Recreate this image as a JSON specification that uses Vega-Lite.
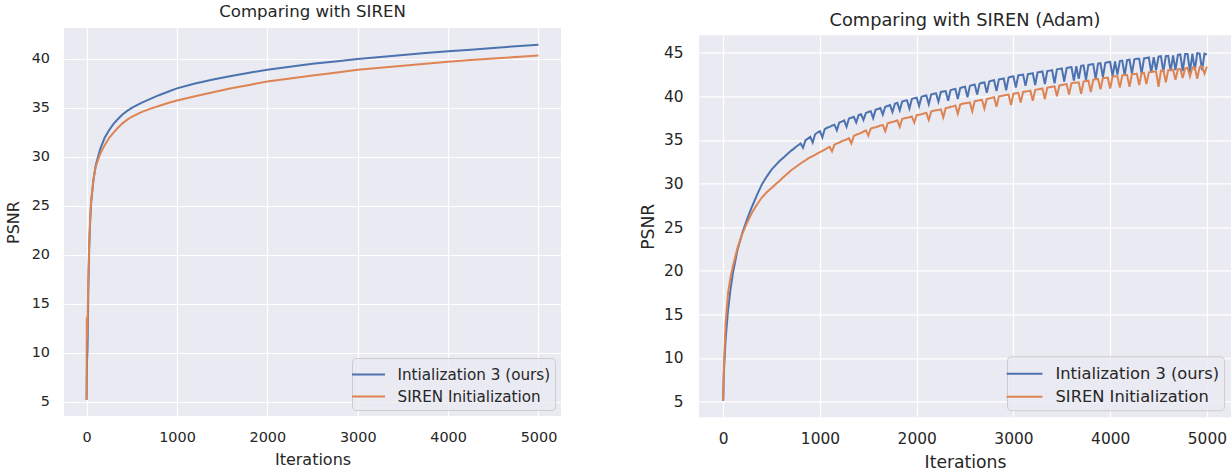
{
  "$schema": "https://vega.github.io/schema/vega-lite/v6.json",
  "background": "white",
  "padding": {"left": 5, "top": 3, "right": 0, "bottom": 0},
  "spacing": 78,
  "resolve": {"scale": {"color": "independent"}, "legend": {"color": "independent"}},
  "config": {
    "font": "DejaVu Sans",
    "view": {"fill": "#EAEAF2", "stroke": null},
    "axis": {"domain": false, "ticks": false, "tickSize": 0, "gridColor": "#FFFFFF", "gridWidth": 1.2, "labelColor": "#262626", "titleColor": "#262626", "titleFontWeight": "normal", "labelFont": "DejaVu Sans", "titleFont": "DejaVu Sans", "labelFlush": false, "labelOverlap": false},
    "title": {"fontWeight": "normal", "color": "#262626", "font": "DejaVu Sans"},
    "legend": {"labelColor": "#262626", "labelFont": "DejaVu Sans", "labelLimit": 0, "symbolType": "M-1.5,0L1.5,0", "symbolStrokeWidth": 2, "fillColor": "rgba(234,234,242,0.8)", "strokeColor": "#CCCCCC", "cornerRadius": 4, "padding": 4.5, "rowPadding": 1, "orient": "bottom-right"}
  },
  "datasets": {
    "left": [
      {"x":0,"b":5.2,"o":5.2},{"x":2,"b":7.0,"o":13.6},{"x":5,"b":9.2,"o":11.5},{"x":10,"b":10.3,"o":13.0},{"x":15,"b":13.5,"o":15.5},{"x":20,"b":17.0,"o":18.0},{"x":30,"b":21.0,"o":21.5},{"x":40,"b":23.5,"o":23.8},{"x":50,"b":25.3,"o":25.5},{"x":75,"b":27.6,"o":27.6},{"x":100,"b":29.1,"o":29.0},{"x":150,"b":30.8,"o":30.3},{"x":200,"b":31.95,"o":31.2},{"x":250,"b":32.75,"o":31.95},{"x":300,"b":33.4,"o":32.5},{"x":350,"b":33.9,"o":33.0},{"x":400,"b":34.35,"o":33.45},{"x":450,"b":34.7,"o":33.8},{"x":500,"b":35.0,"o":34.1},{"x":600,"b":35.5,"o":34.55},{"x":700,"b":35.9,"o":34.9},{"x":800,"b":36.3,"o":35.2},{"x":900,"b":36.65,"o":35.5},{"x":1000,"b":37.0,"o":35.75},{"x":1200,"b":37.5,"o":36.2},{"x":1400,"b":37.9,"o":36.6},{"x":1600,"b":38.25,"o":37.0},{"x":1800,"b":38.6,"o":37.35},{"x":2000,"b":38.9,"o":37.7},{"x":2250,"b":39.2,"o":38.0},{"x":2500,"b":39.5,"o":38.3},{"x":2750,"b":39.75,"o":38.6},{"x":3000,"b":40.0,"o":38.9},{"x":3250,"b":40.2,"o":39.1},{"x":3500,"b":40.4,"o":39.3},{"x":3750,"b":40.6,"o":39.5},{"x":4000,"b":40.78,"o":39.72},{"x":4250,"b":40.95,"o":39.9},{"x":4500,"b":41.12,"o":40.05},{"x":4750,"b":41.3,"o":40.2},{"x":4999,"b":41.46,"o":40.34}
    ],
    "right": [
      {"x":0,"b":5.1,"o":5.1},{"x":5,"b":7.6,"o":8.1},{"x":10,"b":9.0,"o":9.8},{"x":25,"b":12.1,"o":14.0},{"x":50,"b":15.5,"o":17.4},{"x":75,"b":17.8,"o":19.2},{"x":100,"b":19.7,"o":20.5},{"x":150,"b":22.5,"o":22.7},{"x":200,"b":24.4,"o":24.3},{"x":250,"b":26.0,"o":25.6},{"x":300,"b":27.4,"o":26.7},{"x":350,"b":28.7,"o":27.6},{"x":400,"b":29.9,"o":28.4},{"x":450,"b":30.8,"o":29.0},{"x":500,"b":31.6,"o":29.5},{"x":550,"b":32.2,"o":30.0},{"x":575,"b":32.5,"o":30.25},
      {"x":600,"b":32.75,"o":30.5},{"x":625,"b":33.0,"o":30.75},{"x":650,"b":33.25,"o":31.0},{"x":675,"b":33.5,"o":31.25},{"x":700,"b":33.75,"o":31.5},{"x":725,"b":33.95,"o":31.7},{"x":750,"b":34.2,"o":31.9},{"x":775,"b":34.4,"o":32.1},
      {"x":800,"b":34.6,"o":32.3},{"x":825,"b":34.1,"o":32.5},{"x":850,"b":34.95,"o":32.65},{"x":875,"b":35.15,"o":32.85},{"x":900,"b":35.35,"o":33.0},{"x":925,"b":34.7,"o":33.15},{"x":950,"b":35.65,"o":33.3},{"x":975,"b":35.85,"o":33.45},
      {"x":1000,"b":36.0,"o":33.6},{"x":1025,"b":35.3,"o":33.75},{"x":1050,"b":36.25,"o":33.9},{"x":1075,"b":36.4,"o":34.05},{"x":1100,"b":36.5,"o":34.2},{"x":1125,"b":36.65,"o":33.7},{"x":1150,"b":36.75,"o":34.45},{"x":1175,"b":36.1,"o":34.6},
      {"x":1200,"b":37.0,"o":34.7},{"x":1225,"b":37.1,"o":34.85},{"x":1250,"b":37.25,"o":34.95},{"x":1275,"b":36.5,"o":35.05},{"x":1300,"b":37.45,"o":35.2},{"x":1325,"b":37.55,"o":34.6},{"x":1350,"b":37.65,"o":35.45},{"x":1375,"b":37.0,"o":35.6},
      {"x":1400,"b":37.85,"o":35.7},{"x":1425,"b":37.95,"o":35.8},{"x":1450,"b":37.3,"o":35.95},{"x":1475,"b":38.1,"o":36.1},{"x":1500,"b":38.2,"o":35.5},{"x":1525,"b":38.3,"o":36.3},{"x":1550,"b":37.5,"o":36.4},{"x":1575,"b":38.45,"o":36.45},
      {"x":1600,"b":38.55,"o":36.55},{"x":1625,"b":38.65,"o":36.65},{"x":1650,"b":37.9,"o":36.7},{"x":1675,"b":38.8,"o":36.0},{"x":1700,"b":38.9,"o":36.9},{"x":1725,"b":39.0,"o":37.0},{"x":1750,"b":38.2,"o":37.05},{"x":1775,"b":39.15,"o":37.15},
      {"x":1800,"b":39.25,"o":37.25},{"x":1825,"b":38.4,"o":36.5},{"x":1850,"b":39.4,"o":37.4},{"x":1875,"b":39.5,"o":37.5},{"x":1900,"b":39.55,"o":37.55},{"x":1925,"b":38.6,"o":37.6},{"x":1950,"b":39.7,"o":37.7},{"x":1975,"b":39.8,"o":37.0},
      {"x":2000,"b":39.85,"o":37.85},{"x":2025,"b":38.9,"o":37.9},{"x":2050,"b":39.95,"o":37.95},{"x":2075,"b":40.05,"o":38.05},{"x":2100,"b":40.1,"o":38.1},{"x":2125,"b":39.1,"o":37.3},{"x":2150,"b":40.2,"o":38.25},{"x":2175,"b":40.3,"o":38.35},
      {"x":2200,"b":40.35,"o":38.4},{"x":2225,"b":39.4,"o":38.45},{"x":2250,"b":40.5,"o":38.5},{"x":2275,"b":40.55,"o":37.6},{"x":2300,"b":40.6,"o":38.65},{"x":2325,"b":39.5,"o":38.7},{"x":2350,"b":40.7,"o":38.8},{"x":2375,"b":40.8,"o":38.85},
      {"x":2400,"b":40.85,"o":38.95},{"x":2425,"b":39.7,"o":38.0},{"x":2450,"b":40.95,"o":39.05},{"x":2475,"b":41.05,"o":39.15},{"x":2500,"b":41.1,"o":39.2},{"x":2525,"b":39.9,"o":39.25},{"x":2550,"b":41.2,"o":39.3},{"x":2575,"b":41.3,"o":38.3},
      {"x":2600,"b":41.35,"o":39.45},{"x":2625,"b":40.2,"o":39.5},{"x":2650,"b":41.45,"o":39.55},{"x":2675,"b":41.55,"o":39.6},{"x":2700,"b":41.6,"o":38.6},{"x":2725,"b":40.4,"o":39.7},{"x":2750,"b":41.7,"o":39.75},{"x":2775,"b":41.8,"o":39.85},
      {"x":2800,"b":41.85,"o":39.9},{"x":2825,"b":40.6,"o":38.8},{"x":2850,"b":41.95,"o":40.0},{"x":2875,"b":42.0,"o":40.05},{"x":2900,"b":42.05,"o":40.1},{"x":2925,"b":40.7,"o":40.15},{"x":2950,"b":42.15,"o":40.2},{"x":2975,"b":42.25,"o":39.0},
      {"x":3000,"b":42.3,"o":40.3},{"x":3025,"b":41.0,"o":40.35},{"x":3050,"b":42.4,"o":40.4},{"x":3075,"b":42.45,"o":39.3},{"x":3100,"b":42.5,"o":40.5},{"x":3125,"b":41.2,"o":40.55},{"x":3150,"b":42.55,"o":40.6},{"x":3175,"b":42.6,"o":40.65},
      {"x":3200,"b":42.65,"o":39.5},{"x":3225,"b":41.3,"o":40.75},{"x":3250,"b":42.75,"o":40.8},{"x":3275,"b":42.8,"o":40.85},{"x":3300,"b":42.85,"o":40.9},{"x":3325,"b":41.4,"o":39.7},{"x":3350,"b":42.9,"o":41.0},{"x":3375,"b":42.95,"o":41.05},
      {"x":3400,"b":43.0,"o":41.1},{"x":3425,"b":41.5,"o":41.15},{"x":3450,"b":43.1,"o":40.0},{"x":3475,"b":43.15,"o":41.25},{"x":3500,"b":43.2,"o":41.3},{"x":3525,"b":41.7,"o":41.35},{"x":3550,"b":43.25,"o":41.4},{"x":3575,"b":43.3,"o":40.2},
      {"x":3600,"b":43.35,"o":41.5},{"x":3625,"b":41.8,"o":41.55},{"x":3650,"b":43.45,"o":41.6},{"x":3675,"b":42.0,"o":41.6},{"x":3700,"b":43.5,"o":40.3},{"x":3725,"b":43.55,"o":41.7},{"x":3750,"b":41.9,"o":41.75},{"x":3775,"b":43.6,"o":41.8},
      {"x":3800,"b":43.65,"o":40.5},{"x":3825,"b":43.7,"o":41.9},{"x":3850,"b":42.0,"o":41.95},{"x":3875,"b":43.75,"o":42.0},{"x":3900,"b":43.8,"o":40.8},{"x":3925,"b":42.2,"o":42.1},{"x":3950,"b":43.85,"o":42.1},{"x":3975,"b":43.9,"o":42.15},
      {"x":4000,"b":43.95,"o":40.9},{"x":4025,"b":42.3,"o":42.25},{"x":4050,"b":44.0,"o":42.3},{"x":4075,"b":42.5,"o":42.3},{"x":4100,"b":44.05,"o":41.0},{"x":4125,"b":44.1,"o":42.4},{"x":4150,"b":42.4,"o":42.45},{"x":4175,"b":44.15,"o":42.45},
      {"x":4200,"b":44.2,"o":41.1},{"x":4225,"b":42.6,"o":42.55},{"x":4250,"b":44.25,"o":42.55},{"x":4275,"b":44.3,"o":42.6},{"x":4300,"b":44.3,"o":41.3},{"x":4325,"b":42.6,"o":42.65},{"x":4350,"b":44.35,"o":42.7},{"x":4375,"b":44.4,"o":41.4},
      {"x":4400,"b":44.45,"o":42.75},{"x":4425,"b":42.7,"o":42.8},{"x":4450,"b":44.5,"o":42.85},{"x":4475,"b":43.0,"o":42.85},{"x":4500,"b":44.55,"o":41.1},{"x":4525,"b":44.6,"o":42.95},{"x":4550,"b":42.8,"o":43.0},{"x":4575,"b":44.6,"o":41.6},
      {"x":4600,"b":44.65,"o":43.0},{"x":4625,"b":42.9,"o":43.05},{"x":4650,"b":44.7,"o":43.05},{"x":4675,"b":43.0,"o":41.9},{"x":4700,"b":44.75,"o":43.1},{"x":4725,"b":44.8,"o":43.15},{"x":4750,"b":42.9,"o":42.1},{"x":4775,"b":44.85,"o":43.2},
      {"x":4800,"b":44.85,"o":43.25},{"x":4825,"b":42.8,"o":42.3},{"x":4850,"b":44.9,"o":43.3},{"x":4875,"b":43.0,"o":43.3},{"x":4900,"b":44.95,"o":42.0},{"x":4925,"b":44.9,"o":43.35},{"x":4950,"b":43.0,"o":43.4},{"x":4975,"b":44.9,"o":42.6},
      {"x":4999,"b":44.8,"o":43.4}
    ]
  },
  "hconcat": [
    {
      "width": 497,
      "height": 388,
      "title": {"text": "Comparing with SIREN", "fontSize": 16.6, "offset": 7.5},
      "data": {"name": "left"},
      "transform": [{"fold": ["b", "o"], "as": ["s", "y"]}],
      "mark": {"type": "line", "strokeWidth": 2, "clip": true},
      "encoding": {
        "x": {"field": "x", "type": "quantitative", "scale": {"domain": [-250, 5249], "nice": false, "zero": false},
              "axis": {"values": [0, 1000, 2000, 3000, 4000, 5000], "format": "d", "title": "Iterations", "labelFontSize": 14.4, "titleFontSize": 16, "labelPadding": 14, "titlePadding": 8}},
        "y": {"field": "y", "type": "quantitative", "scale": {"domain": [3.55, 43.16], "nice": false, "zero": false},
              "axis": {"values": [5, 10, 15, 20, 25, 30, 35, 40], "title": "PSNR", "labelFontSize": 14.4, "titleFontSize": 16, "labelPadding": 14.5, "titlePadding": 10}},
        "color": {"field": "s", "type": "nominal", "scale": {"domain": ["b", "o"], "range": ["#4C72B0", "#DD8452"]},
                  "legend": {"title": null, "offset": 6.5, "labelFontSize": 15.2, "symbolSize": 484, "labelOffset": 17, "labelExpr": "datum.label == 'b' ? 'Intialization 3 (ours)' : 'SIREN Initialization'"}}
      }
    },
    {
      "spacing": 5.3,
      "resolve": {"scale": {"color": "independent", "x": "independent", "y": "independent"}, "legend": {"color": "independent"}, "axis": {"x": "independent", "y": "independent"}},
      "vconcat": [
        {
          "width": 532,
          "height": 1,
          "view": {"fill": null, "stroke": null},
          "title": {"text": "Comparing with SIREN (Adam)", "fontSize": 17.8, "offset": -1.4},
          "data": {"values": []},
          "mark": "point"
        },
        {
          "width": 532,
          "height": 382,
          "data": {"name": "right"},
          "transform": [{"fold": ["b", "o"], "as": ["s", "y"]}],
          "mark": {"type": "line", "strokeWidth": 2, "clip": true},
          "encoding": {
            "x": {"field": "x", "type": "quantitative", "scale": {"domain": [-250, 5249], "nice": false, "zero": false},
                  "axis": {"values": [0, 1000, 2000, 3000, 4000, 5000], "format": "d", "title": "Iterations", "labelFontSize": 15.4, "titleFontSize": 17.2, "labelPadding": 14.5, "titlePadding": 6}},
            "y": {"field": "y", "type": "quantitative", "scale": {"domain": [3.2, 47.0], "nice": false, "zero": false},
                  "axis": {"values": [5, 10, 15, 20, 25, 30, 35, 40, 45], "title": "PSNR", "labelFontSize": 15.4, "titleFontSize": 17.2, "labelPadding": 16, "titlePadding": 6}},
            "color": {"field": "s", "type": "nominal", "scale": {"domain": ["b", "o"], "range": ["#4C72B0", "#DD8452"]},
                      "legend": {"title": null, "offset": 7, "labelFontSize": 16.3, "symbolSize": 570, "labelOffset": 18, "labelExpr": "datum.label == 'b' ? 'Intialization 3 (ours)' : 'SIREN Initialization'"}}
          }
        }
      ]
    }
  ]
}
